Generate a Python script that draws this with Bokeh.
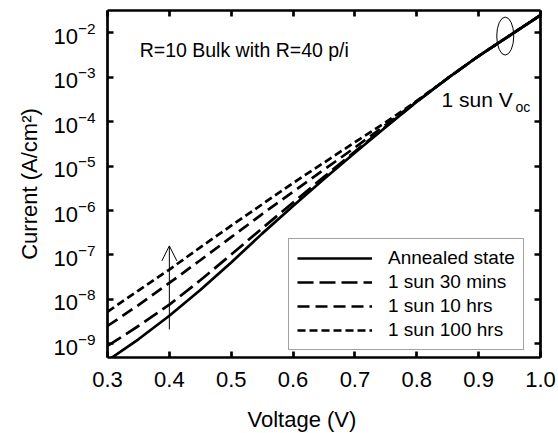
from bokeh.plotting import figure
from bokeh.models import (Range1d, FixedTicker, LinearAxis, LogAxis, Label, Title,
                          Arrow, OpenHead, Legend, LegendItem)
from bokeh.embed import file_html
from bokeh.resources import INLINE

# ---- data ----
voltage = [0.30, 0.35, 0.40, 0.45, 0.50, 0.55, 0.60, 0.65,
           0.70, 0.75, 0.80, 0.85, 0.90, 0.95, 1.00]
annealed = [4.17e-10, 1.26e-9, 4.27e-9, 1.62e-8, 6.76e-8, 3.02e-7, 1.26e-6, 5.13e-6,
            2.00e-5, 7.59e-5, 2.82e-4, 9.55e-4, 3.02e-3, 8.71e-3, 2.51e-2]
sun_30min = [8.91e-10, 2.51e-9, 7.59e-9, 2.69e-8, 1.02e-7, 3.98e-7, 1.51e-6, 5.75e-6,
             2.14e-5, 7.76e-5, 2.82e-4, 9.55e-4, 3.02e-3, 8.71e-3, 2.51e-2]
sun_10hrs = [2.51e-9, 7.41e-9, 2.34e-8, 7.59e-8, 2.51e-7, 8.32e-7, 2.63e-6, 8.32e-6,
             2.63e-5, 8.51e-5, 2.88e-4, 9.55e-4, 3.02e-3, 8.71e-3, 2.51e-2]
sun_100hrs = [5.25e-9, 1.58e-8, 4.68e-8, 1.48e-7, 4.57e-7, 1.38e-6, 4.17e-6, 1.20e-5,
              3.47e-5, 9.77e-5, 2.95e-4, 9.55e-4, 3.02e-3, 8.71e-3, 2.51e-2]

series_labels = ["Annealed state", "1 sun 30 mins", "1 sun 10 hrs", "1 sun 100 hrs"]
x_ticks = [0.3, 0.4, 0.5, 0.6, 0.7, 0.8, 0.9, 1.0]
x_tick_labels = ["0.3", "0.4", "0.5", "0.6", "0.7", "0.8", "0.9", "1.0"]
y_ticks = [1e-9, 1e-8, 1e-7, 1e-6, 1e-5, 1e-4, 1e-3, 1e-2]

# annotation anchors
arrow_x = 0.4
arrow_y0, arrow_y1 = 2.1e-9, 1.6e-7
voc_x, voc_y = 0.943, 8.5e-3

FONT = "Liberation Sans"

p = figure(width=556, height=432, y_axis_type="log",
           x_range=Range1d(0.3, 1.0), y_range=Range1d(4.9e-10, 3.2e-2),
           output_backend="svg", toolbar_location=None,
           min_border_left=107, min_border_right=16, min_border_top=10,
           min_border_bottom=75)
p.background_fill_color = "white"
p.border_fill_color = "white"
p.outline_line_color = None
p.xgrid.grid_line_color = None
p.ygrid.grid_line_color = None

# extra axes on top and right for inward ticks (labels blanked)
top_axis = LinearAxis(ticker=FixedTicker(ticks=x_ticks),
                      major_label_overrides={t: "" for t in x_ticks})
right_axis = LogAxis(ticker=FixedTicker(ticks=y_ticks),
                     major_label_overrides={t: "" for t in y_ticks})
p.add_layout(top_axis, "above")
p.add_layout(right_axis, "right")

for ax in p.xaxis + p.yaxis:
    ax.axis_line_width = 2.7
    ax.axis_line_color = "black"
    ax.major_tick_in = 6
    ax.major_tick_out = 0
    ax.major_tick_line_width = 2.7
    ax.major_tick_line_color = "black"
    ax.minor_tick_line_color = None
    ax.major_label_text_font = FONT
    ax.major_label_text_font_size = "22px"
    ax.major_label_text_color = "black"
    ax.axis_label_text_font = FONT
    ax.axis_label_text_font_size = "22px"
    ax.axis_label_text_font_style = "normal"
    ax.axis_label_text_color = "black"

top_axis.major_label_text_font_size = "1px"
top_axis.major_label_standoff = 0
right_axis.major_label_text_font_size = "1px"
right_axis.major_label_standoff = 0

p.below[0].ticker = FixedTicker(ticks=x_ticks)
p.below[0].major_label_overrides = {t: l for t, l in zip(x_ticks, x_tick_labels)}
p.left[0].ticker = FixedTicker(ticks=y_ticks)

p.below[0].major_label_standoff = 14
p.left[0].major_label_standoff = 12
p.left[0].axis_label = "Current (A/cm²)"
p.left[0].axis_label_standoff = 8

# x-axis title, placed as a title below the axis (left of centre as in reference)
p.add_layout(Title(text="Voltage (V)", align="left", offset=140,
                   text_font=FONT, text_font_size="22px", text_font_style="normal",
                   text_color="black", standoff=0,
                   padding=dict(left=0, right=0, top=15, bottom=0)), "below")

r1 = p.line(voltage, annealed, line_color="black", line_width=2.7)
r2 = p.line(voltage, sun_30min, line_color="black", line_width=2.7, line_dash="16 6")
r3 = p.line(voltage, sun_10hrs, line_color="black", line_width=2.7, line_dash="12 6")
r4 = p.line(voltage, sun_100hrs, line_color="black", line_width=2.7, line_dash="8 4")

legend = Legend(items=[LegendItem(label=l, renderers=[r])
                       for l, r in zip(series_labels, [r1, r2, r3, r4])],
                location=(181, 7))
legend.label_text_font = FONT
legend.label_text_font_size = "19px"
legend.label_text_color = "black"
legend.glyph_width = 75
legend.glyph_height = 20
legend.label_height = 20
legend.label_standoff = 16
legend.spacing = 2
legend.padding = 8
legend.margin = 0
legend.border_line_color = "#444444"
legend.border_line_width = 1
legend.background_fill_color = "white"
p.add_layout(legend, "center")

p.add_layout(Arrow(end=OpenHead(size=15, line_width=1, line_color="black"),
                   x_start=arrow_x, y_start=arrow_y0, x_end=arrow_x, y_end=arrow_y1,
                   line_width=1, line_color="black"))

p.ellipse(x=[voc_x], y=[voc_y], width=17, height=38, width_units="screen",
          height_units="screen", fill_color=None, line_color="black", line_width=1)

p.add_layout(Label(x=0.352, y=4.2e-3, text="R=10 Bulk with R=40 p/i",
                   text_font=FONT, text_font_size="19.5px", text_baseline="middle",
                   text_color="black"))
p.add_layout(Label(x=0.84, y=3.1e-4, text="1 sun V",
                   text_font=FONT, text_font_size="21px", text_baseline="middle",
                   text_color="black"))
p.add_layout(Label(x=0.9596, y=2.1e-4, text="oc",
                   text_font=FONT, text_font_size="14px", text_baseline="middle",
                   text_color="black"))

open("out.html", "w").write(file_html(p, INLINE))
